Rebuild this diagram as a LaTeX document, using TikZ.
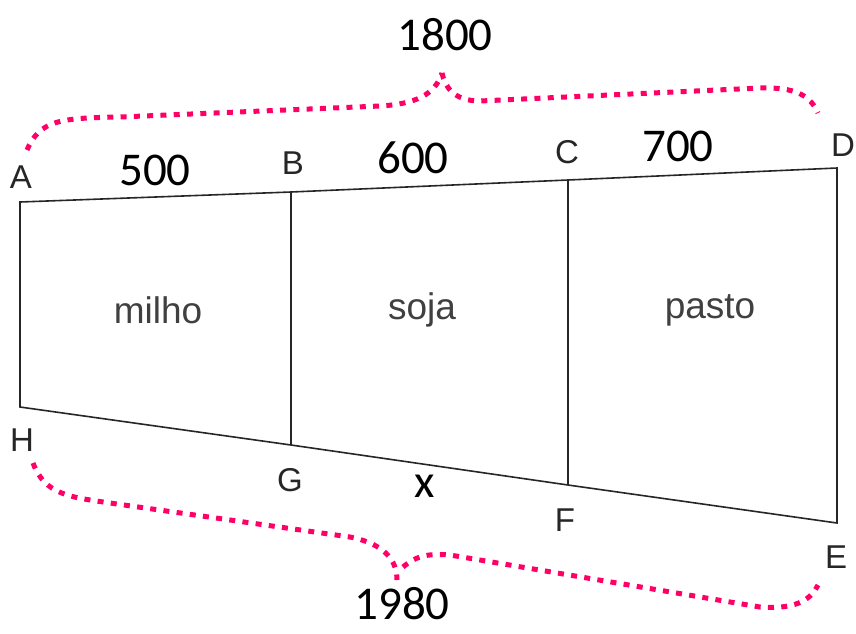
\documentclass[tikz,border=0pt]{standalone}
\usepackage{fontspec}
\setmainfont{Liberation Sans}
\newfontfamily\calib{Carlito}
\definecolor{brace}{HTML}{FF0066}
\begin{document}
\begin{tikzpicture}[x=1pt,y=-1pt,
  edge/.style={line width=1.6pt,draw=black!85},
  pt/.style={text=black!85,font=\fontsize{33}{36}\selectfont,inner sep=0pt},
  num/.style={text=black,font=\calib\fontsize{47}{52}\selectfont,inner sep=0pt},
  crop/.style={text=black!75,font=\fontsize{37}{40}\selectfont,inner sep=0pt},
  bracepath/.style={draw=brace,line width=5pt,dash pattern=on 6pt off 7.3pt}]
\useasboundingbox (0,0) rectangle (856,633);
\coordinate (A) at (20,202);
\coordinate (B) at (291,192);
\coordinate (C) at (568,180);
\coordinate (D) at (837,168);
\coordinate (H) at (20,407);
\coordinate (G) at (291,445);
\coordinate (F) at (568,485);
\coordinate (E) at (837,523);
\draw[edge] (A) -- (B) -- (C) -- (D) -- (E) -- (F) -- (G) -- (H) -- cycle;
\draw[edge] (B) -- (G);
\draw[edge] (C) -- (F);
% point labels
\node[pt] (lA) at (21,177) {A};
\node[pt] (lB) at (293,163) {B};
\node[pt] (lC) at (567,152) {C};
\node[pt] (lD) at (843,145) {D};
\node[pt] (lH) at (22,440) {H};
\node[pt] (lG) at (290,480) {G};
\node[pt] (lF) at (565,520) {F};
\node[pt] (lE) at (836,557) {E};
% lengths
\node[num] (n500) at (155,170) {500};
\node[num] (n600) at (413,158) {600};
\node[num] (n700) at (678,146) {700};
\node[num] (nx) at (425,486) {x};
\node[num] (n1800) at (445,35) {1800};
\node[num] (n1980) at (402,604) {1980};
% crops
\node[crop] (milho) at (158,310) {milho};
\node[crop] (soja) at (422,310) {soja};
\node[crop] (pasto) at (710,310) {pasto};
% braces
\coordinate (t0) at (27,150);
\coordinate (t2) at (442,73);
\coordinate (t3) at (480,101);
\coordinate (t4) at (818,113);
\draw[bracepath] (t0) .. controls (40,120) and (60,118) .. (120,117)
  -- (380,106) .. controls (415,104) and (435,95) .. (t2);
\draw[bracepath] (t2) .. controls (445,88) and (455,101) .. (t3)
  -- (760,88) .. controls (795,87) and (810,95) .. (t4);
\coordinate (b0) at (33,463);
\coordinate (b2) at (397,580);
\coordinate (b3) at (403,567);
\coordinate (b4) at (818,585);
\draw[bracepath] (b0) .. controls (45,495) and (70,497) .. (110,503)
  -- (350,537) .. controls (390,545) and (397,565) .. (b2);
\draw[bracepath] (b3) .. controls (415,557) and (425,553) .. (450,555)
  -- (760,607) .. controls (800,610) and (812,597) .. (b4);
\end{tikzpicture}
\end{document}
